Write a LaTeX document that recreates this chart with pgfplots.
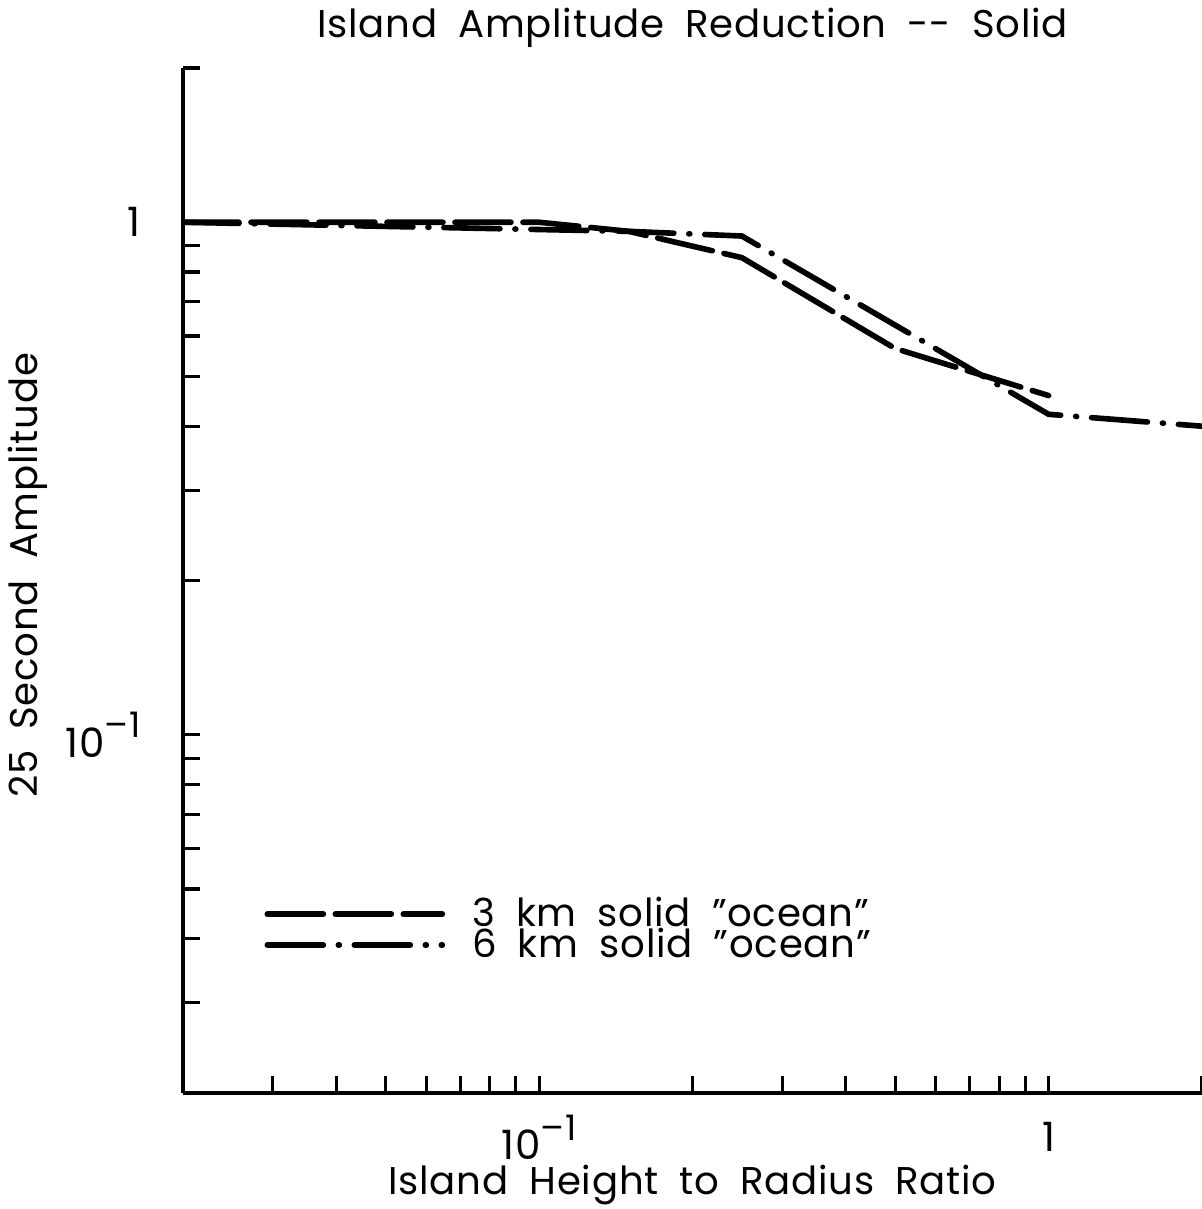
\documentclass[border=0pt]{standalone}
\usepackage{fontspec}
\setmainfont{Poppins}[WordSpace=1.9, LetterSpace=2]
\usepackage{pgfplots}
\pgfplotsset{compat=1.18}
\newcommand{\tenminusone}{10\raisebox{5.5pt}{\fontsize{10}{10}\selectfont–1}}
\begin{document}
\begin{tikzpicture}
\begin{loglogaxis}[
  scale only axis,
  width=10.19cm, height=10.25cm,
  xmin=0.02, xmax=2, ymin=0.02, ymax=2,
  axis x line*=bottom, axis y line*=left,
  axis line style={line width=1.3pt, -},
  every tick/.style={line width=0.9pt, black},
  major tick length=0.17cm, minor tick length=0.17cm,
  tick align=inside,
  xtick={0.1,1}, xticklabels={\tenminusone,1},
  ytick={0.1,1}, yticklabels={\tenminusone,1},
  minor xtick={0.03,0.04,0.05,0.06,0.07,0.08,0.09,0.2,0.3,0.4,0.5,0.6,0.7,0.8,0.9,2},
  minor ytick={0.03,0.04,0.05,0.06,0.07,0.08,0.09,0.2,0.3,0.4,0.5,0.6,0.7,0.8,0.9,2},
  xticklabel style={anchor=center, yshift=-0.44cm},
  yticklabel style={anchor=east, xshift=-0.3cm},
  font=\fontsize{11}{13}\selectfont,
  tick label style={font=\fontsize{11.5}{13}\selectfont},
  every axis title shift=0pt,
  title={Island Amplitude Reduction -{}- Solid},
  title style={at={(axis description cs:0.5,1.039)}, anchor=center, font=\fontsize{11}{13}\selectfont},
  xlabel={Island Height to Radius Ratio},
  xlabel style={at={(axis description cs:0.5,-0.09)}, anchor=center, font=\fontsize{11}{13}\selectfont},
  ylabel={25 Second Amplitude},
  ylabel style={at={(axis description cs:-0.152,0.505)}, anchor=center, font=\fontsize{11}{13}\selectfont},
  legend cell align=left,
  legend style={draw=none, fill=none, at={(axis description cs:0.069,0.199)}, anchor=north west,
     font=\fontsize{11}{10}\selectfont, row sep=-1.1pt, nodes={inner sep=0pt}},
  legend image code/.code={\draw[#1] (0cm,0cm) -- (1.75cm,0cm); \path[draw=none] (0cm,0cm) -- (2.05cm,0cm);},
]
\addplot[black, line width=1.6pt, line cap=round, dash pattern=on 0.56cm off 0.12cm] coordinates {
 (0.02,1.0) (0.1,1.0) (0.15,0.96) (0.25,0.853) (0.5,0.567) (1.0,0.459)
};
\addlegendentry{3 km solid "ocean"}
\addplot[black, line width=1.6pt, line cap=round, dash pattern=on 0.56cm off 0.15cm on 0.01cm off 0.15cm] coordinates {
 (0.02,1.0) (0.15,0.96) (0.25,0.94) (1.0,0.422) (2.0,0.40)
};
\addlegendentry{6 km solid "ocean"}
\end{loglogaxis}
\pgfresetboundingbox
\path (-1.83cm,-1.16cm) rectangle (10.19cm,10.93cm);
\end{tikzpicture}
\end{document}
